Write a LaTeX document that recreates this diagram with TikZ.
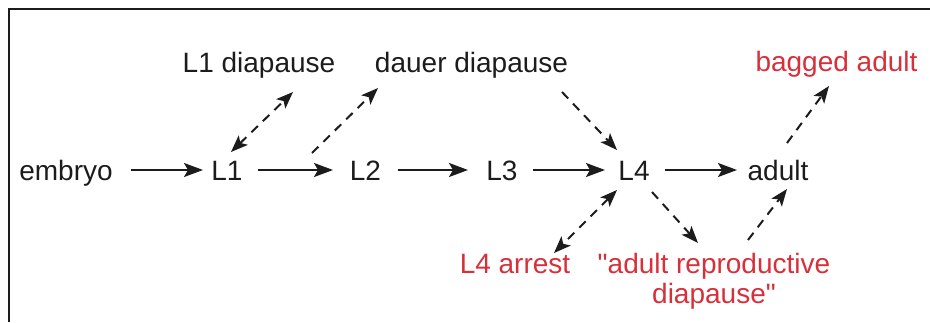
\documentclass[tikz,border=0pt]{standalone}
\usepackage{fontspec}
\setmainfont{Liberation Sans}[Ligatures=TeXOff]
\usetikzlibrary{arrows.meta,calc}
\definecolor{ink}{HTML}{1C1C1C}
\definecolor{redtxt}{HTML}{D8303A}
\tikzset{
  lbl/.style={anchor=base, inner sep=0pt, text=ink, font=\fontsize{28}{30}\selectfont},
  redlbl/.style={lbl, text=redtxt, align=center},
  arr/.style={-{Stealth[length=19pt,width=14pt,inset=4pt]}, line width=2pt, draw=ink},
  darr/.style={-{Stealth[length=17pt,width=13pt,inset=4pt]}, line width=2pt, draw=ink, dash pattern=on 9pt off 7pt},
  ddarr/.style={{Stealth[length=17pt,width=13pt,inset=4pt]}-{Stealth[length=17pt,width=13pt,inset=4pt]}, line width=2pt, draw=ink, dash pattern=on 9pt off 7pt},
}
\begin{document}
\begin{tikzpicture}[x=1pt,y=-1pt]
\useasboundingbox (0,0) rectangle (930,322);
\draw[line width=2.2pt, ink] (9,322) -- (9,9) -- (931,9);

% main row
\node[lbl] (emb) at (66,180) {embryo};
\node[lbl] (L1) at (227,180) {L1};
\node[lbl] (L2) at (365.5,180) {L2};
\node[lbl] (L3) at (502,180) {L3};
\node[lbl] (L4) at (634,180) {L4};
\node[lbl] (ad) at (778,180) {adult};

% top row
\node[lbl] (L1d) at (259,72) {L1 diapause};
\node[lbl] (dd) at (471.5,72) {dauer diapause};
\node[redlbl] (bag) at (836.5,71) {bagged adult};

% bottom row
\node[redlbl] (arr4) at (515,273) {L4 arrest};
\node[redlbl] (ard) at (714,303) {"adult reproductive\\diapause"};

% horizontal arrows
\draw[arr] ($(emb.base)+(65,-10)$) -- ($(L1.base)+(-24,-10)$);
\draw[arr] ($(L1.base)+(31,-10)$) -- ($(L2.base)+(-32.5,-10)$);
\draw[arr] ($(L2.base)+(32.5,-10)$) -- ($(L3.base)+(-34,-10)$);
\draw[arr] ($(L3.base)+(31,-10)$) -- ($(L4.base)+(-29,-10)$);
\draw[arr] ($(L4.base)+(31,-10)$) -- ($(ad.base)+(-41,-10)$);

% dashed arrows
\draw[ddarr] ($(L1.base)+(4,-28)$) -- ($(L1d.base)+(34,20)$);
\draw[darr] ($(L2.base)+(-53.5,-27)$) -- ($(dd.base)+(-93.5,16)$);
\draw[darr] ($(dd.base)+(90.5,20)$) -- ($(L4.base)+(-17,-30)$);
\draw[darr] ($(ad.base)+(9,-37)$) -- ($(bag.base)+(-7.5,15)$);
\draw[ddarr] ($(L4.base)+(-17,10)$) -- ($(arr4.base)+(39,-20)$);
\draw[darr] ($(L4.base)+(18,12)$) -- ($(ard.base)+(-16,-60)$);
\draw[darr] ($(ard.base)+(34,-63)$) -- ($(ad.base)+(9,9)$);
\end{tikzpicture}
\end{document}
